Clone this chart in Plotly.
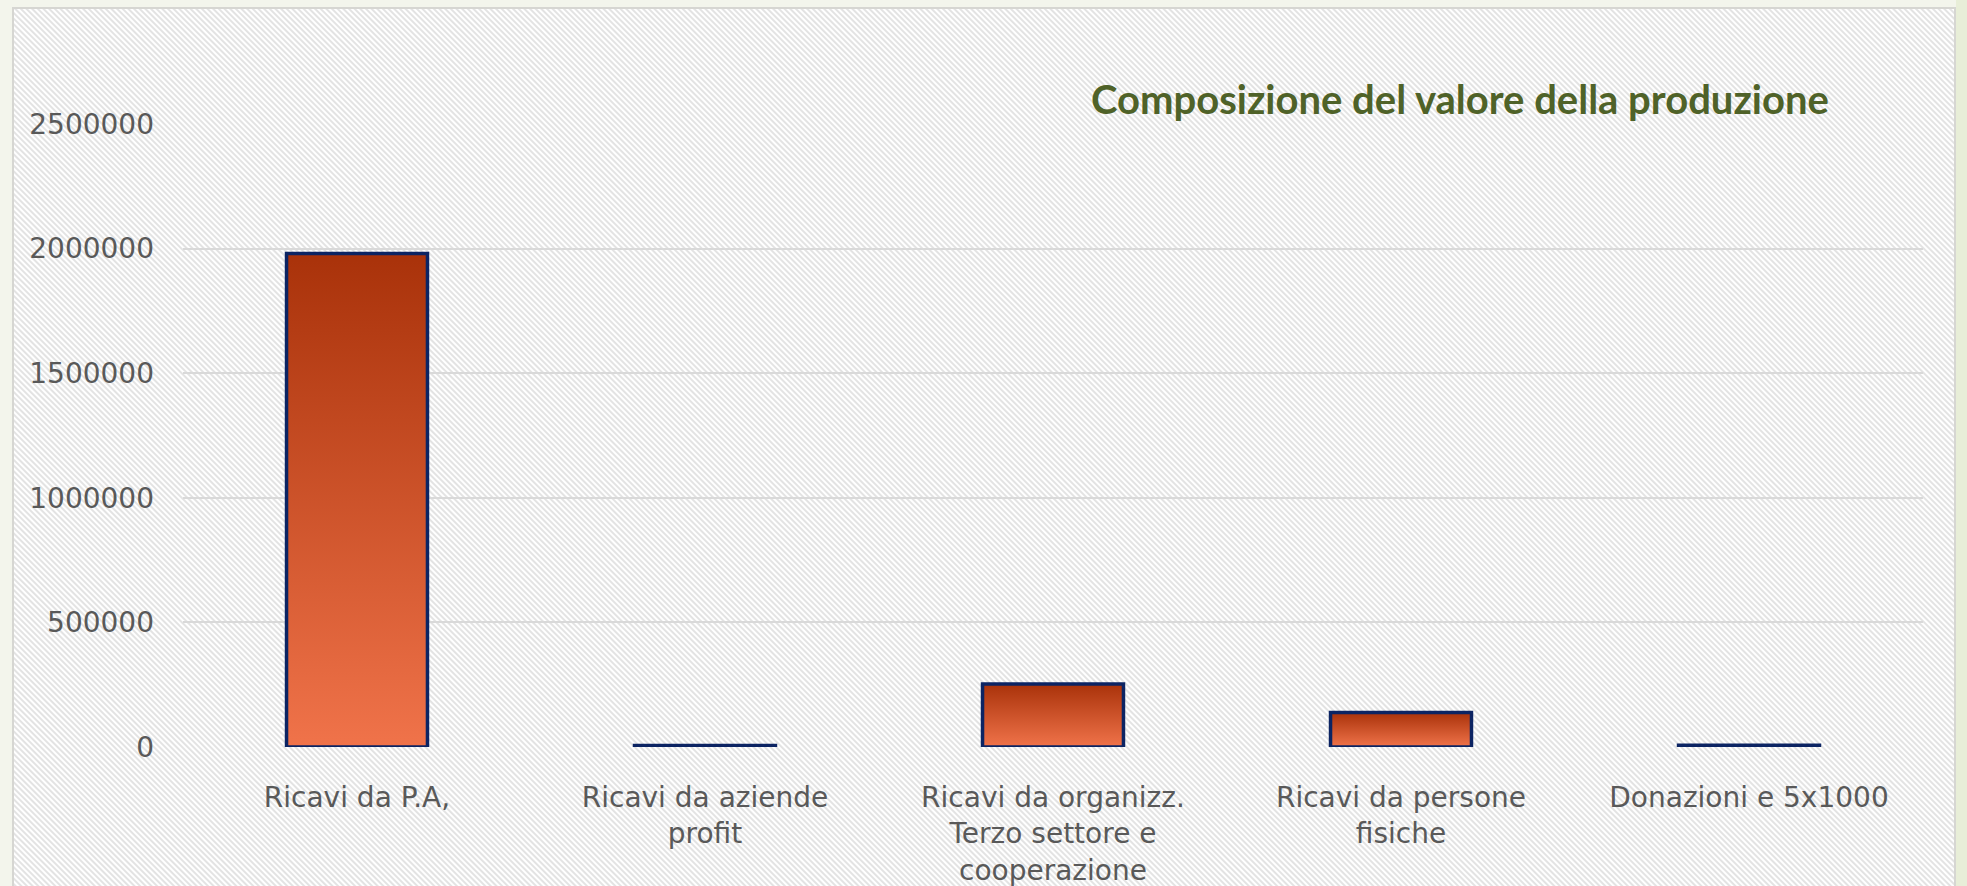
import plotly.graph_objects as go

# data
categories = ["Ricavi da P.A,", "Ricavi da aziende<br>profit",
              "Ricavi da organizz.<br>Terzo settore e<br>cooperazione",
              "Ricavi da persone<br>fisiche", "Donazioni e 5x1000"]
values = [1980000, 6000, 253000, 138000, 7000]
y_ticks = [0, 500000, 1000000, 1500000, 2000000, 2500000]

W, H = 1967, 886
L, R, T, B = 183, 44, 124, 139
plot_w, plot_h = W - L - R, H - T - B

def px_x(p):
    return (p - L) / plot_w

def px_y(p):
    return (H - B - p) / plot_h

# hatched frame drawn as svg background image
fx0, fy0, fx1, fy1 = 13, 8, 1955, 886
fw, fh = fx1 - fx0, fy1 - fy0
svg = (f'<svg xmlns="http://www.w3.org/2000/svg" width="{fw}" height="{fh}" viewBox="0 0 {fw} {fh}">'
       '<defs><pattern id="p" width="4" height="4" patternUnits="userSpaceOnUse" patternTransform="rotate(-45)">'
       '<rect width="4" height="4" fill="#ffffff"/><rect width="2" height="4" fill="#e3e3e3"/></pattern></defs>'
       f'<rect width="{fw}" height="{fh}" fill="url(#p)"/></svg>')
svg_uri = "data:image/svg+xml;charset=utf-8," + svg.replace("#", "%23").replace('"', "'").replace("<", "%3C").replace(">", "%3E")

half = 0.2025
idx = list(range(len(categories)))

fig = go.Figure()
# bars: gradient fill + navy outline
for i, v in zip(idx, values):
    fig.add_trace(go.Scatter(
        x=[i - half, i - half, i + half, i + half, i - half],
        y=[0, v, v, 0, 0],
        mode="lines", fill="toself",
        line=dict(color="#0c2463", width=3.5),
        fillgradient=dict(type="vertical",
                          colorscale=[[0, "#f0734a"], [1, "#a9320a"]]),
        hoverinfo="skip", showlegend=False))

fig.update_layout(
    width=W, height=H,
    margin=dict(l=L, r=R, t=T, b=B),
    paper_bgcolor="#f3f5ec",
    plot_bgcolor="rgba(0,0,0,0)",
    font=dict(family="DejaVu Sans", color="#595959", size=28),
    xaxis=dict(range=[-0.5, 4.5], tickvals=idx, ticktext=categories,
               showgrid=False, zeroline=False, showline=False, ticks="",
               ticklabelstandoff=31, automargin=False),
    yaxis=dict(range=[0, 2500000], tickvals=y_ticks, tickformat="d",
               showgrid=True, gridcolor="#d9d9d9", gridwidth=1.5,
               zeroline=False, showline=False, ticks="",
               ticklabelstandoff=28, tickfont=dict(size=28), automargin=False),
    images=[dict(source=svg_uri, xref="paper", yref="paper",
                 x=px_x(fx0), y=px_y(fy0),
                 sizex=fw / plot_w, sizey=fh / plot_h,
                 xanchor="left", yanchor="top", sizing="stretch",
                 layer="below")],
    shapes=[
        dict(type="rect", xref="paper", yref="paper",
             x0=px_x(fx0), x1=px_x(fx1), y0=px_y(fy1 + 5), y1=px_y(fy0),
             line=dict(color="#d6d6d2", width=2), layer="below"),
        dict(type="rect", xref="paper", yref="paper",
             x0=px_x(fx1 + 1), x1=px_x(W), y0=px_y(H), y1=px_y(0),
             fillcolor="#e8eed8", line=dict(width=0), layer="below"),
    ],
    annotations=[dict(text="<b>Composizione del valore della produzione</b>",
                      xref="paper", yref="paper", x=px_x(1831), y=px_y(99),
                      xanchor="right", yanchor="middle", showarrow=False,
                      font=dict(family="Lato", size=40, color="#4f6228"))],
)

fig.write_html("out.html", config={"displayModeBar": False},
               post_script="document.body.style.margin='0';")
